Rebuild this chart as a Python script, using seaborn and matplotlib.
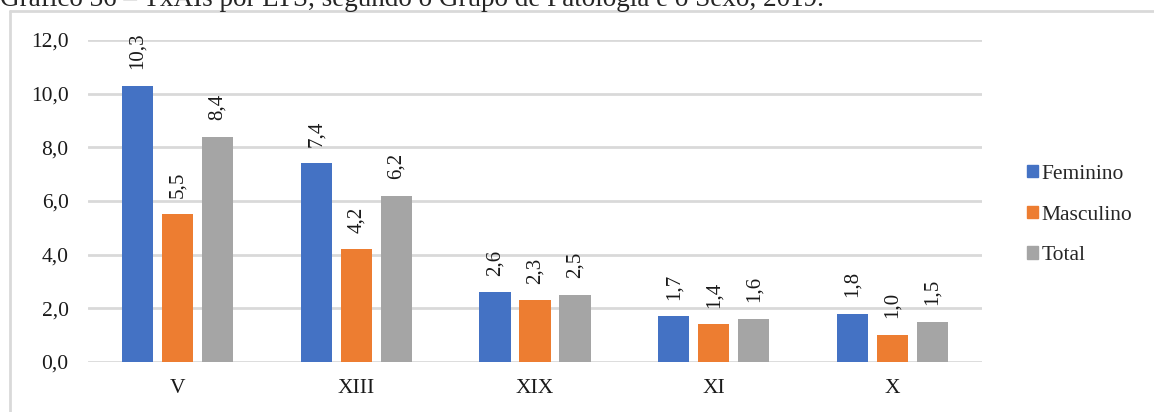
import pandas as pd
import matplotlib.pyplot as plt
import seaborn as sns
from matplotlib.lines import Line2D
from matplotlib.ticker import FuncFormatter

# Data
grupos = ['V', 'XIII', 'XIX', 'XI', 'X']
feminino = [10.3, 7.4, 2.6, 1.7, 1.8]
masculino = [5.5, 4.2, 2.3, 1.4, 1.0]
total = [8.4, 6.2, 2.5, 1.6, 1.5]
series = ['Feminino', 'Masculino', 'Total']
colors = ['#4472C4', '#ED7D31', '#A5A5A5']

df = pd.DataFrame({'Grupo': grupos * 3,
                   'Sexo': [s for s in series for _ in grupos],
                   'Valor': feminino + masculino + total})

sns.set_style('white')
plt.rcParams['font.family'] = ['Liberation Serif', 'DejaVu Serif']

fig = plt.figure(figsize=(11.54, 4.12), dpi=100)
ax = fig.add_axes([88 / 1154, 1 - 362 / 412, (982 - 88) / 1154, (362 - 40) / 412])

sns.barplot(data=df, x='Grupo', y='Valor', hue='Sexo', order=grupos,
            hue_order=series, palette=colors, width=0.67, gap=0.22,
            linewidth=0, saturation=1, ax=ax, legend=False)

for cont in ax.containers:
    ax.bar_label(cont, labels=[f'{v:.1f}'.replace('.', ',') for v in cont.datavalues],
                 rotation=90, padding=12, fontsize=15, color='#1a1a1a')

ax.set_ylim(0, 12)
ax.set_xlim(-0.5, 4.5)
ax.set_yticks(range(0, 13, 2))
ax.yaxis.set_major_formatter(FuncFormatter(lambda v, p: f'{v:.1f}'.replace('.', ',')))
ax.grid(axis='y', color='#D9D9D9', linewidth=2)
ax.set_axisbelow(True)
ax.tick_params(axis='both', length=0, labelsize=15.5, colors='#1a1a1a')
ax.tick_params(axis='y', pad=14)
ax.tick_params(axis='x', pad=12)
ax.set_xlabel('')
ax.set_ylabel('')
sns.despine(ax=ax, left=True, bottom=True)

handles = [plt.Rectangle((0, 0), 1, 1, color=c) for c in colors]
fig.legend(handles, series, loc='center left', bbox_to_anchor=(1008 / 1154, 1 - 215 / 412),
           frameon=False, fontsize=15.5, handlelength=0.5, handleheight=0.5,
           handletextpad=0.15, labelspacing=1.0)

# outer chart border (left and top only visible) and the cut-off caption
fig.add_artist(Line2D([10 / 1154, 10 / 1154], [0, 1 - 11 / 412], color='#D9D9D9', linewidth=2))
fig.add_artist(Line2D([10 / 1154, 1], [1 - 11 / 412, 1 - 11 / 412], color='#D9D9D9', linewidth=2))
fig.text(0.0, 1 - 6 / 412, 'Gráfico 36 – TxAIs por LTS, segundo o Grupo de Patologia e o Sexo, 2019.',
         fontsize=19.5, va='baseline', ha='left')

fig.savefig('out.png', dpi=100)
